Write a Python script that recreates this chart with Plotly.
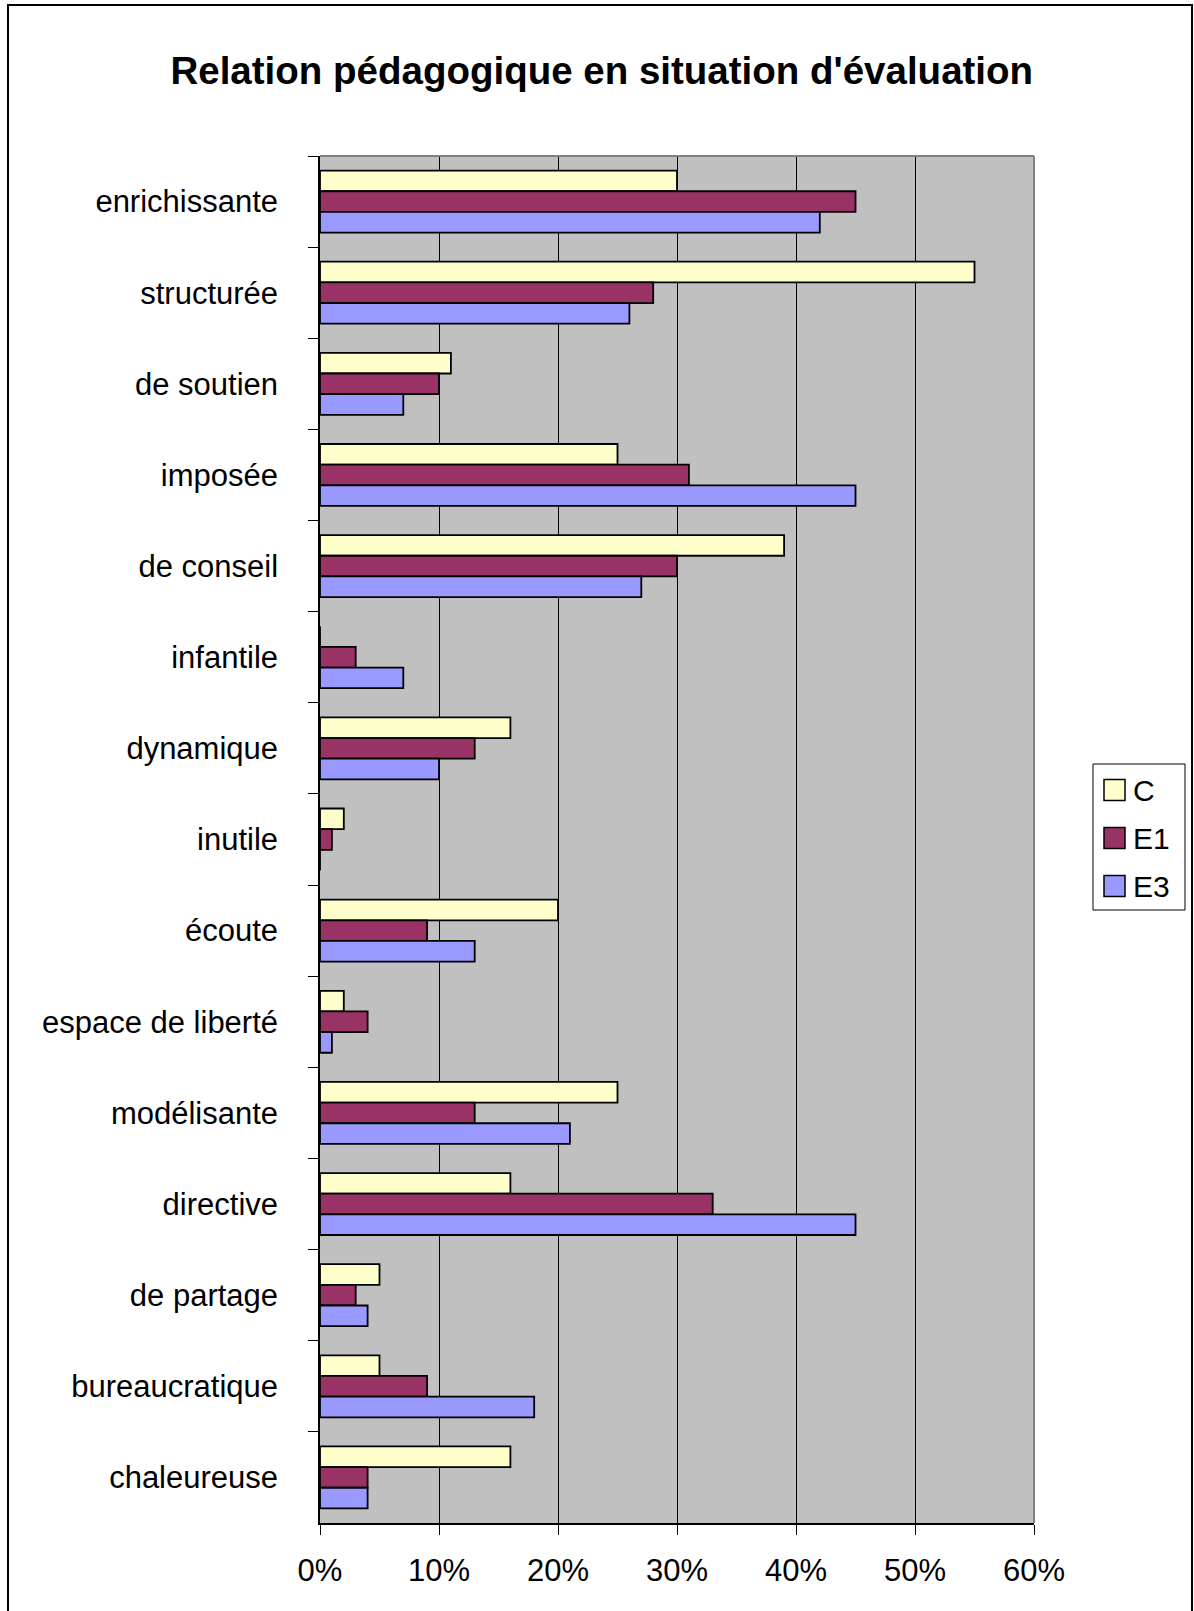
import plotly.graph_objects as go

# Survey answers: share of respondents per descriptor, by group (in %)
categories = [
    "enrichissante", "structurée", "de soutien", "imposée", "de conseil",
    "infantile", "dynamique", "inutile", "écoute", "espace de liberté",
    "modélisante", "directive", "de partage", "bureaucratique", "chaleureuse",
]
values_C = [30, 55, 11, 25, 39, 0, 16, 2, 20, 2, 25, 16, 5, 5, 16]
values_E1 = [45, 28, 10, 31, 30, 3, 13, 1, 9, 4, 13, 33, 3, 9, 4]
values_E3 = [42, 26, 7, 45, 27, 7, 10, 0, 13, 1, 21, 45, 4, 18, 4]

series_names = ["C", "E1", "E3"]
series_values = [values_C, values_E1, values_E3]
series_colors = ["#FFFFCC", "#993366", "#9999FF"]

x_ticks = [0, 10, 20, 30, 40, 50, 60]

W, H = 1194, 1611
L, R, T, B = 320, 160, 156, 88
PW, PH = W - L - R, H - T - B

FONT = "Liberation Sans, Arial, sans-serif"


def px_x(x):
    return (x - L) / PW


def px_y(y):
    return (H - B - y) / PH


fig = go.Figure()
for name, vals, col in zip(series_names, series_values, series_colors):
    fig.add_trace(go.Bar(
        y=categories,
        x=vals,
        name=name,
        orientation="h",
        marker=dict(color=col, line=dict(color="black", width=1.8)),
        showlegend=False,
    ))

shapes = []
# grey frame on top / right of plotting area
shapes.append(dict(type="line", xref="paper", yref="paper", x0=0, x1=1, y0=1, y1=1,
                   line=dict(color="#808080", width=2), layer="above"))
shapes.append(dict(type="line", xref="paper", yref="paper", x0=1, x1=1, y0=0, y1=1,
                   line=dict(color="#808080", width=2), layer="above"))
# outer chart border
shapes.append(dict(type="rect", xref="paper", yref="paper",
                   x0=px_x(8), x1=px_x(1192), y0=px_y(1640), y1=px_y(5),
                   line=dict(color="black", width=2), layer="above"))

# legend box
shapes.append(dict(type="rect", xref="paper", yref="paper",
                   x0=px_x(1093), x1=px_x(1185), y0=px_y(910), y1=px_y(764),
                   line=dict(color="black", width=1), fillcolor="white", layer="above"))
annotations = []
legend_rows = [790, 838, 886]
for name, col, yc in zip(series_names, series_colors, legend_rows):
    shapes.append(dict(type="rect", xref="paper", yref="paper",
                       x0=px_x(1104), x1=px_x(1125), y0=px_y(yc + 10.5), y1=px_y(yc - 10.5),
                       line=dict(color="black", width=1.5), fillcolor=col, layer="above"))
    annotations.append(dict(xref="paper", yref="paper", x=px_x(1131), y=px_y(yc),
                            xanchor="left", yanchor="middle", text=name, showarrow=False,
                            font=dict(family=FONT, size=30, color="black")))

fig.update_layout(
    width=W, height=H,
    margin=dict(l=L, r=R, t=T, b=B),
    paper_bgcolor="white",
    plot_bgcolor="#C0C0C0",
    barmode="group",
    bargap=0.32,
    bargroupgap=0,
    title=dict(
        text="<b>Relation pédagogique en situation d'évaluation</b>",
        x=0.504, xanchor="center", y=1 - 71 / H, yanchor="middle",
        font=dict(family=FONT, size=38.5, color="black"),
    ),
    xaxis=dict(
        range=[0, 60], tickvals=x_ticks, ticktext=[f"{v}%" for v in x_ticks],
        showgrid=True, gridcolor="black", gridwidth=1,
        zeroline=False, showline=True, linecolor="black", linewidth=1.5,
        ticks="outside", ticklen=10, tickcolor="black", tickwidth=1,
        tickfont=dict(family=FONT, size=31, color="black"),
        ticklabelstandoff=9,
    ),
    yaxis=dict(
        autorange="reversed", type="category",
        showgrid=False, zeroline=False, showline=True, linecolor="black", linewidth=1.5,
        ticks="outside", ticklen=10, tickcolor="black", tickwidth=1, tickson="boundaries",
        tickfont=dict(family=FONT, size=31, color="black"),
        ticklabelstandoff=34,
    ),
    shapes=shapes,
    annotations=annotations,
)

fig.write_html("out.html")
